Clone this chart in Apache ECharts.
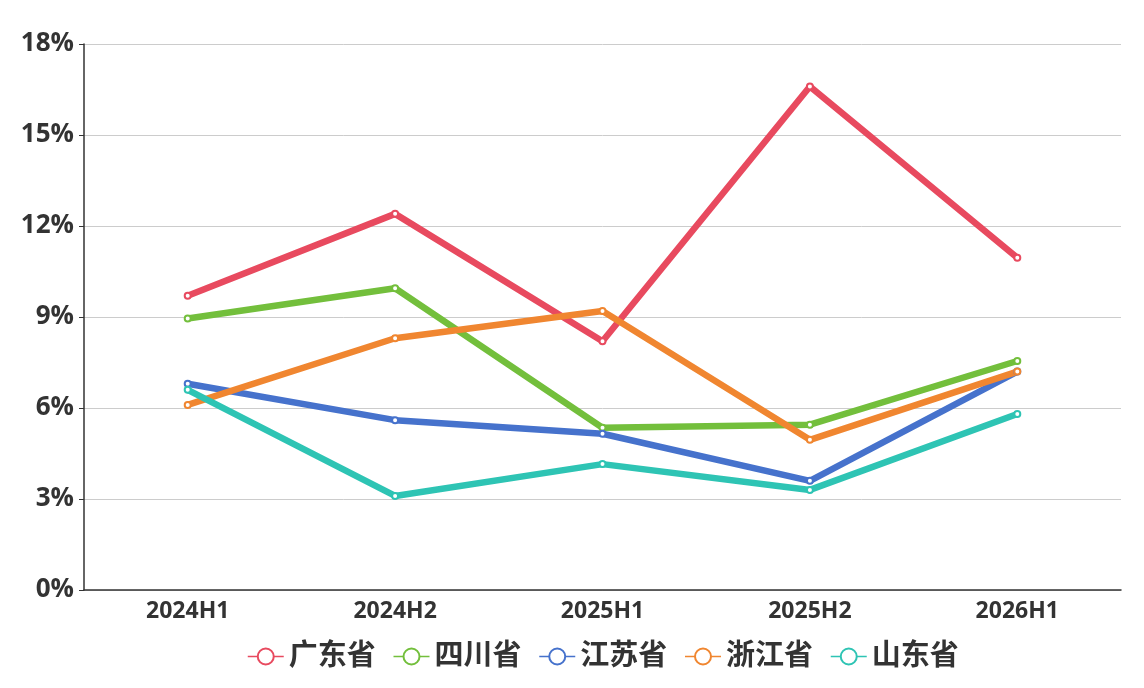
<!DOCTYPE html>
<html>
<head>
<meta charset="utf-8">
<script src="https://cdn.jsdelivr.net/npm/echarts@6/dist/echarts.min.js"></script>
<style>
  html, body { margin: 0; padding: 0; background: #fff; }
  #chart { width: 1144px; height: 688px; }
</style>
</head>
<body>
<div id="chart"></div>
<script>
const categories = ['2024H1', '2024H2', '2025H1', '2025H2', '2026H1'];
const guangdong = [9.7, 12.4, 8.2, 16.6, 10.95];
const sichuan = [8.95, 9.95, 5.35, 5.45, 7.55];
const jiangsu = [6.8, 5.6, 5.15, 3.6, 7.2];
const zhejiang = [6.1, 8.3, 9.2, 4.95, 7.2];
const shandong = [6.6, 3.1, 4.15, 3.3, 5.8];
const yTicks = [0, 3, 6, 9, 12, 15, 18];

const fontFamily = '"Open Sans", "Noto Sans CJK SC", sans-serif';

document.addEventListener('DOMContentLoaded', () => {
    const chart = echarts.init(document.getElementById('chart'));

    const makeSeries = (name, data, color) => ({
        name: name,
        type: 'line',
        data: data,
        symbol: 'emptyCircle',
        symbolSize: 6,
        showSymbol: true,
        itemStyle: { color: color, borderWidth: 1.5 },
        lineStyle: { width: 6.5, color: color }
    });

    const option = {
        animation: false,
        color: ['#e84a5f', '#73bf3c', '#4672cc', '#f08630', '#2ec4b4'],
        textStyle: { fontFamily: fontFamily },
        grid: { left: 84, right: 23, top: 44, bottom: 98 },
        legend: {
            left: 242,
            bottom: 12,
            itemWidth: 36,
            itemHeight: 20,
            itemGap: 17,
            itemStyle: { borderWidth: 1.5 },
            lineStyle: { width: 1.5 },
            textStyle: { fontSize: 29, fontWeight: 'bold', color: '#333', fontFamily: fontFamily },
            data: ['广东省', '四川省', '江苏省', '浙江省', '山东省']
        },
        xAxis: {
            type: 'category',
            data: categories,
            boundaryGap: true,
            axisLine: { lineStyle: { color: '#333', width: 1.5 } },
            axisTick: { lineStyle: { color: '#333' } },
            axisLabel: { color: '#333', fontSize: 23, fontWeight: 'bold', margin: 10 }
        },
        yAxis: {
            type: 'value',
            min: yTicks[0],
            max: yTicks[yTicks.length - 1],
            interval: 3,
            axisLine: { show: true, lineStyle: { color: '#333', width: 1.5 } },
            axisTick: { show: true, length: 5, lineStyle: { color: '#333' } },
            axisLabel: { color: '#333', fontSize: 26, fontWeight: 'bold', margin: 10, formatter: '{value}%' },
            splitLine: { lineStyle: { color: '#ccc' } }
        },
        series: [
            makeSeries('广东省', guangdong, '#e84a5f'),
            makeSeries('四川省', sichuan, '#73bf3c'),
            makeSeries('江苏省', jiangsu, '#4672cc'),
            makeSeries('浙江省', zhejiang, '#f08630'),
            makeSeries('山东省', shandong, '#2ec4b4')
        ]
    };
    chart.setOption(option);

    window.addEventListener('resize', () => chart.resize());
});
</script>
</body>
</html>
